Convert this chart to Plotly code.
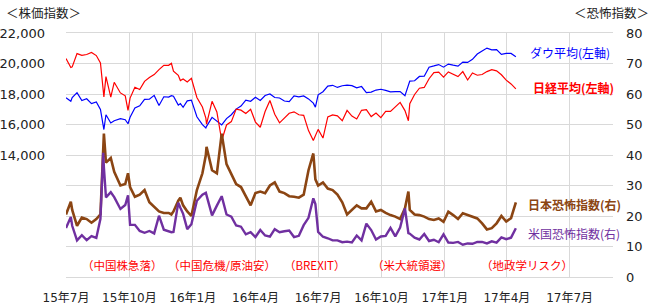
import plotly.graph_objects as go

dates = [
    "2015-07-01", "2015-07-08", "2015-07-10", "2015-07-17", "2015-07-24", "2015-07-31",
    "2015-08-07", "2015-08-14", "2015-08-20", "2015-08-24", "2015-08-25", "2015-08-28",
    "2015-09-04", "2015-09-09", "2015-09-18", "2015-09-25", "2015-09-29", "2015-10-02",
    "2015-10-09", "2015-10-16", "2015-10-23", "2015-10-30", "2015-11-06", "2015-11-13",
    "2015-11-20", "2015-11-27", "2015-12-01", "2015-12-04", "2015-12-11", "2015-12-14",
    "2015-12-18", "2015-12-24", "2015-12-30", "2016-01-07", "2016-01-15", "2016-01-20",
    "2016-01-21", "2016-01-29", "2016-02-05", "2016-02-12", "2016-02-19", "2016-02-26",
    "2016-03-04", "2016-03-11", "2016-03-18", "2016-03-25", "2016-04-01", "2016-04-08",
    "2016-04-15", "2016-04-22", "2016-04-29", "2016-05-06", "2016-05-13", "2016-05-20",
    "2016-05-27", "2016-06-03", "2016-06-10", "2016-06-17", "2016-06-24", "2016-06-27",
    "2016-07-01", "2016-07-08", "2016-07-15", "2016-07-22", "2016-07-29", "2016-08-05",
    "2016-08-12", "2016-08-19", "2016-08-26", "2016-09-02", "2016-09-09", "2016-09-16",
    "2016-09-23", "2016-09-30", "2016-10-07", "2016-10-14", "2016-10-21", "2016-10-28",
    "2016-11-04", "2016-11-09", "2016-11-11", "2016-11-18", "2016-11-25", "2016-12-02",
    "2016-12-09", "2016-12-16", "2016-12-23", "2016-12-30", "2017-01-06", "2017-01-13",
    "2017-01-20", "2017-01-27", "2017-02-03", "2017-02-10", "2017-02-17", "2017-02-24",
    "2017-03-03", "2017-03-10", "2017-03-17", "2017-03-24", "2017-03-31", "2017-04-07",
    "2017-04-14",
]

nikkei = [
    20330, 19740, 19780, 20650, 20540, 20590, 20720, 20520, 20030, 18540, 17810, 19140,
    17790, 18770, 18070, 17880, 16930, 17730, 18440, 18290, 18830, 19080, 19270, 19600,
    19880, 19880, 20010, 19500, 19230, 18880, 18990, 18790, 19030, 17770, 17150, 16420,
    16020, 17520, 16820, 14950, 15970, 16190, 17010, 16940, 16720, 17000, 16160, 15820,
    16850, 17570, 16670, 16110, 16410, 16740, 16830, 16640, 16600, 15600, 14950, 15310,
    15680, 15110, 16500, 16630, 16570, 16250, 16920, 16550, 16360, 16930, 16970, 16520,
    16750, 16450, 16860, 16860, 17180, 17450, 16910, 16250, 17370, 17970, 18380, 18430,
    19000, 19400, 19430, 19110, 19450, 19290, 19140, 19470, 18920, 19380, 19230, 19280,
    19470, 19600, 19520, 19260, 18910, 18660, 18340,
]

dow = [
    17760, 17520, 17760, 18090, 17570, 17690, 17370, 17480, 16990, 15870, 15670, 16640,
    16100, 16250, 16380, 16310, 16050, 16470, 17080, 17220, 17650, 17660, 17910, 17250,
    17820, 17800, 17890, 17850, 17270, 17370, 17130, 17550, 17600, 16510, 15990, 15770,
    15880, 16470, 16200, 15970, 16390, 16640, 17010, 17210, 17600, 17520, 17790, 17580,
    17900, 18000, 17770, 17740, 17540, 17500, 17870, 17810, 17870, 17680, 17400, 17140,
    17950, 18150, 18520, 18570, 18430, 18540, 18580, 18550, 18400, 18490, 18090, 18120,
    18260, 18310, 18240, 18140, 18150, 18160, 17890, 18590, 18850, 18870, 19150, 19170,
    19760, 19840, 19930, 19760, 19960, 19890, 19830, 20090, 20070, 20270, 20620, 20820,
    21010, 20900, 20910, 20600, 20660, 20660, 20450,
]

vi_japan = [
    20.5, 24.7, 22.0, 16.8, 19.5, 19.0, 17.8, 19.0, 20.5, 40.0, 47.0, 37.5,
    39.0, 34.5, 30.0, 30.5, 34.0, 29.5, 26.3, 27.0, 28.5, 24.5, 23.0, 21.5,
    21.0, 21.0, 20.5, 21.5, 25.0, 26.0, 23.5, 21.5, 20.0, 28.5, 34.0, 40.0,
    42.7, 35.0, 34.0, 47.0, 37.0, 34.0, 30.5, 29.5, 26.5, 23.5, 27.5, 28.0,
    27.5, 30.0, 31.0, 28.0, 27.5, 26.5, 26.3, 26.0, 27.0, 35.0, 40.5, 32.0,
    30.0, 31.0, 29.0, 28.5, 27.0, 24.5, 20.5, 22.0, 23.5, 22.5, 22.5, 24.7,
    21.5, 22.0, 21.0, 20.3, 19.8, 19.0, 22.5, 28.0, 22.0, 20.5, 20.3, 19.8,
    19.0, 18.7, 19.2, 18.1, 21.4, 20.3, 19.0, 20.9, 20.3, 19.8, 19.2, 17.6,
    15.6, 16.0, 17.6, 20.0, 18.2, 19.3, 24.5,
]

vix_us = [
    16.1, 19.7, 16.8, 12.0, 13.7, 12.1, 13.4, 12.8, 19.1, 40.7, 36.0, 26.1,
    27.8, 26.2, 22.3, 23.6, 26.8, 17.1, 17.1, 15.1, 14.5, 15.1, 14.3, 20.1,
    15.5, 15.1, 14.7, 14.8, 24.4, 22.7, 20.7, 15.7, 17.3, 25.0, 27.0, 27.6,
    26.7, 20.2, 23.4, 26.5, 20.5, 19.8, 16.9, 16.5, 14.0, 14.7, 13.1, 15.4,
    13.6, 13.2, 15.7, 14.7, 15.0, 15.2, 13.1, 13.5, 17.0, 19.4, 25.8, 23.9,
    14.8, 13.2, 12.7, 12.0, 12.0, 11.4, 11.6, 11.3, 13.6, 12.0, 17.5, 15.4,
    12.3, 13.3, 13.5, 16.1, 13.3, 16.2, 22.5, 14.4, 14.2, 12.9, 12.3, 14.1,
    11.8, 12.2, 11.4, 14.0, 11.3, 11.2, 11.5, 10.6, 11.0, 10.9, 11.5, 11.5,
    11.0, 11.7, 11.3, 13.0, 12.4, 12.9, 16.0,
]

x_tick_dates = ["2015-07-01", "2015-10-01", "2016-01-01", "2016-04-01", "2016-07-01",
                "2016-10-01", "2017-01-01", "2017-04-01", "2017-07-01"]
x_tick_labels = ["15年7月", "15年10月", "16年1月", "16年4月", "16年7月",
                 "16年10月", "17年1月", "17年4月", "17年7月"]
left_ticks = [14000, 16000, 18000, 20000, 22000]
left_labels = ["14,000", "16,000", "18,000", "20,000", "22,000"]

events = ["（中国株急落）", "（中国危機/原油安）", "（BREXIT）", "（米大統領選）", "（地政学リスク）"]
event_pos = [0.104, 0.285, 0.455, 0.633, 0.843]

FONT = "DejaVu Sans, Noto Sans CJK JP, sans-serif"
JFONT = "Noto Sans CJK JP, DejaVu Sans, sans-serif"
GRID = "#d9d9d9"

fig = go.Figure()
fig.add_trace(go.Scatter(x=dates, y=dow, mode="lines", line=dict(color="#0000ff", width=1.2),
                         yaxis="y", showlegend=False))
fig.add_trace(go.Scatter(x=dates, y=nikkei, mode="lines", line=dict(color="#ff0000", width=1.2),
                         yaxis="y", showlegend=False))
fig.add_trace(go.Scatter(x=dates, y=vi_japan, mode="lines", line=dict(color="#8B4513", width=2.6),
                         yaxis="y2", showlegend=False))
fig.add_trace(go.Scatter(x=dates, y=vix_us, mode="lines", line=dict(color="#7030A0", width=2.4),
                         yaxis="y2", showlegend=False))

annotations = []
for t, px in zip(events, event_pos):
    annotations.append(dict(text=t, x=px, y=0.049, xref="paper", yref="paper",
                            showarrow=False, xanchor="center", yanchor="middle",
                            font=dict(family=JFONT, size=11.5, color="#ff0000")))
annotations += [
    dict(text="ダウ平均(左軸)", x=0.845, y=0.922, xref="paper", yref="paper", showarrow=False,
         xanchor="left", yanchor="middle", font=dict(family=JFONT, size=12, color="#0000ff")),
    dict(text="<b>日経平均(左軸)</b>", x=0.850, y=0.775, xref="paper", yref="paper", showarrow=False,
         xanchor="left", yanchor="middle", font=dict(family=JFONT, size=12, color="#ff0000")),
    dict(text="<b>日本恐怖指数(右)</b>", x=0.841, y=0.299, xref="paper", yref="paper", showarrow=False,
         xanchor="left", yanchor="middle", font=dict(family=JFONT, size=12, color="#8B4513")),
    dict(text="米国恐怖指数(右)", x=0.841, y=0.180, xref="paper", yref="paper", showarrow=False,
         xanchor="left", yanchor="middle", font=dict(family=JFONT, size=12, color="#7030A0")),
    dict(text="＜株価指数＞", x=-0.113, y=1.082, xref="paper", yref="paper", showarrow=False,
         xanchor="left", yanchor="middle", font=dict(family=JFONT, size=12.5, color="#222")),
    dict(text="＜恐怖指数＞", x=1.069, y=1.082, xref="paper", yref="paper", showarrow=False,
         xanchor="right", yanchor="middle", font=dict(family=JFONT, size=12.5, color="#222")),
]

fig.update_layout(
    width=654, height=308, autosize=False,
    margin=dict(l=66, r=41, t=33, b=31, pad=0, autoexpand=False),
    paper_bgcolor="white", plot_bgcolor="white",
    font=dict(family=FONT, color="#222"),
    xaxis=dict(type="date", range=["2015-07-01", "2017-09-02"],
               tickvals=x_tick_dates, ticktext=x_tick_labels,
               showgrid=True, gridcolor=GRID, gridwidth=1,
               showline=True, linecolor=GRID, linewidth=1, mirror=True,
               ticks="", tickfont=dict(family=FONT, size=12, color="#222"),
               ticklabelstandoff=10, zeroline=False, automargin=False),
    yaxis=dict(range=[6000, 22000], tickvals=left_ticks, ticktext=left_labels,
               showgrid=False, zeroline=False, showline=False, ticks="",
               tickfont=dict(family=FONT, size=13, color="#222"), ticklabelstandoff=20,
               automargin=False),
    yaxis2=dict(range=[0, 80], dtick=10, tick0=0, overlaying="y", side="right",
                showgrid=True, gridcolor=GRID, gridwidth=1, zeroline=False,
                showline=False, ticks="", automargin=False,
                tickfont=dict(family=FONT, size=13, color="#222"), ticklabelstandoff=12),
    annotations=annotations,
)

fig.write_html("out.html")
